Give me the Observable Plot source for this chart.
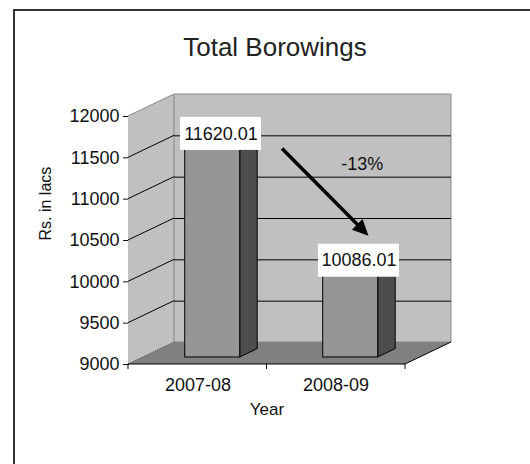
<!DOCTYPE html>
<html>
<head>
<meta charset="utf-8">
<script src="https://cdn.jsdelivr.net/npm/d3@7"></script>
<script src="https://cdn.jsdelivr.net/npm/@observablehq/plot@0.6"></script>
<style>
  body { margin: 0; background: #fff; }
  #wrap { position: relative; width: 530px; height: 464px; overflow: hidden; font-family: "Liberation Sans", Arial, sans-serif; }
  #frame { position: absolute; left: 13px; top: 9px; width: 700px; height: 700px; border: 2px solid #333; box-sizing: border-box; }
  #title { position: absolute; left: 20px; width: 510px; top: 32px; text-align: center; font-size: 26px; line-height: 30px; color: #222; }
  #wrap svg { position: absolute; left: 0; top: 0; }
</style>
</head>
<body>
<div id="wrap">
  <div id="frame"></div>
  <div id="title">Total Borowings</div>
</div>
<script>
// ---- data ----
const years = ["2007-08", "2008-09"];
const borrowings = [11620.01, 10086.01];
const yTicks = [9000, 9500, 10000, 10500, 11000, 11500, 12000];
const xTitle = "Year";
const yTitle = "Rs. in lacs";

const data = years.map((year, i) => ({year, value: borrowings[i]}));
const change = Math.round((borrowings[1] - borrowings[0]) / borrowings[0] * 100);
const changeLabel = change + "%";

// 3D depth geometry
const DX = 46, DY = 22;      // full depth offset
const D0 = 0.32, D1 = 0.70;  // bar front/back depth fractions
const Dm = 0.5;              // label depth

const font = "'Liberation Sans', Arial, sans-serif";

function poly(g, pts, attrs) {
  const p = g.append("polygon").attr("points", pts.map(d => d.join(",")).join(" "));
  for (const k in attrs) p.attr(k, attrs[k]);
  return p;
}
function line(g, a, b, attrs) {
  const l = g.append("line").attr("x1", a[0]).attr("y1", a[1]).attr("x2", b[0]).attr("y2", b[1]);
  for (const k in attrs) l.attr(k, attrs[k]);
  return l;
}
function bwOf(x) { return typeof x.bandwidth === "function" ? x.bandwidth() : x.bandwidth; }

// walls & floor
function walls(index, scales, values, dim) {
  const {y} = scales;
  const L = dim.marginLeft, R = dim.width - dim.marginRight;
  const yT = y(yTicks[yTicks.length - 1]), yB = y(yTicks[0]);
  const g = d3.create("svg:g");
  poly(g, [[L, yT], [L + DX, yT - DY], [L + DX, yB - DY], [L, yB]], {fill: "#c0c0c0"});
  poly(g, [[L + DX, yT - DY], [R + DX, yT - DY], [R + DX, yB - DY], [L + DX, yB - DY]], {fill: "#c0c0c0", stroke: "#888", "stroke-width": 1});
  poly(g, [[L, yB], [R, yB], [R + DX, yB - DY], [L + DX, yB - DY]], {fill: "#808080"});
  for (const v of yTicks.slice(1)) {
    line(g, [L, y(v)], [L + DX, y(v) - DY], {stroke: v === yTicks[yTicks.length - 1] ? "#888" : "#000", "stroke-width": 1});
  }
  line(g, [L, yB], [L + DX, yB - DY], {stroke: "#444", "stroke-dasharray": "1,1"});
  line(g, [R, yB], [R + DX, yB - DY], {stroke: "#000"});
  return g.node();
}

// bar side and top faces
function barSides(index, scales) {
  const {x, y} = scales;
  const bw = bwOf(x);
  const g = d3.create("svg:g");
  for (const d of data) {
    const xl = x(d.year), xr = xl + bw;
    const yt = y(d.value), yb = y(yTicks[0]);
    const a = [DX * D0, -DY * D0], b = [DX * D1, -DY * D1];
    poly(g, [[xl + a[0], yt + a[1]], [xr + a[0], yt + a[1]], [xr + b[0], yt + b[1]], [xl + b[0], yt + b[1]]], {fill: "#b4b4b4", stroke: "#000"});
    poly(g, [[xr + a[0], yt + a[1]], [xr + b[0], yt + b[1]], [xr + b[0], yb + b[1]], [xr + a[0], yb + a[1]]], {fill: "#4d4d4d", stroke: "#000"});
  }
  return g.node();
}

// x axis (category boundaries ticks)
function xAxis(index, scales, values, dim) {
  const {y} = scales;
  const L = dim.marginLeft, R = dim.width - dim.marginRight;
  const yB = y(yTicks[0]);
  const g = d3.create("svg:g");
  line(g, [L, yB], [R, yB], {stroke: "#000"});
  for (const t of [L, (L + R) / 2, R]) line(g, [t, yB], [t, yB + 5], {stroke: "#000"});
  return g.node();
}

// label boxes, arrow and change label
const BW = 81, BH = 33;
function labelBoxes(index, scales) {
  const {x, y} = scales;
  const bw = bwOf(x);
  const g = d3.create("svg:g");
  const centers = data.map(d => [x(d.year) + bw / 2 + DX * Dm, y(d.value) - DY * Dm - 3]);
  for (const [cx, cy] of centers) {
    g.append("rect").attr("x", cx - BW / 2).attr("y", cy - BH / 2).attr("width", BW).attr("height", BH).attr("fill", "#fff");
  }
  // arrow from first label to second
  const [c1, c2] = centers;
  const s = [c1[0] + BW / 2 + 21, c1[1] + 15];
  const e = [c2[0] + 10, c2[1] - BH / 2 - 8];
  const ang = Math.atan2(e[1] - s[1], e[0] - s[0]);
  const hl = 16, hw = 7.5;
  const base = [e[0] - hl * Math.cos(ang), e[1] - hl * Math.sin(ang)];
  line(g, s, [base[0] + 2 * Math.cos(ang), base[1] + 2 * Math.sin(ang)], {stroke: "#000", "stroke-width": 3.5});
  poly(g, [e, [base[0] + hw * Math.sin(ang), base[1] - hw * Math.cos(ang)], [base[0] - hw * Math.sin(ang), base[1] + hw * Math.cos(ang)]], {fill: "#000"});
  const mid = [(s[0] + e[0]) / 2, (s[1] + e[1]) / 2];
  g.append("text").attr("x", mid[0] + 37).attr("y", mid[1] - 27).attr("text-anchor", "middle").attr("dominant-baseline", "middle")
    .attr("font-size", 18).attr("font-family", font).attr("fill", "#111").text(changeLabel);
  return g.node();
}

const chart = Plot.plot({
  width: 530,
  height: 464,
  marginLeft: 128,
  marginRight: 125,
  marginTop: 116,
  marginBottom: 100,
  style: {fontFamily: font, fontSize: "18px", background: "transparent", color: "#111", overflow: "visible"},
  x: {type: "band", domain: years, paddingInner: 0.6, paddingOuter: 0.3, axis: null},
  y: {domain: [yTicks[0], yTicks[yTicks.length - 1]], ticks: yTicks, tickSize: 5, tickPadding: 4, tickFormat: d => String(d), label: null, line: true},
  marks: [
    walls,
    Plot.ruleY(yTicks.slice(1, -1), {dx: DX, dy: -DY, stroke: "#000", strokeOpacity: 1}),
    barSides,
    Plot.barY(data, {x: "year", y1: yTicks[0], y2: "value", dx: DX * D0, dy: -DY * D0, fill: "#969696", stroke: "#000", strokeWidth: 1}),
    xAxis,
    Plot.text(years, {x: d => d, y: yTicks[0], dy: 21, text: d => d, fontSize: 18, fill: "#111"}),
    Plot.text([xTitle], {frameAnchor: "bottom", dy: 50, text: d => d, fontSize: 17, fill: "#111"}),
    Plot.text([yTitle], {frameAnchor: "left", dx: -83, rotate: -90, text: d => d, fontSize: 16, fill: "#111"}),
    labelBoxes,
    Plot.text(data, {x: "year", y: "value", dx: DX * Dm, dy: -DY * Dm - 3, text: d => d.value.toFixed(2), fontSize: 18, fill: "#111"})
  ]
});
document.getElementById("wrap").appendChild(chart);
</script>
</body>
</html>
